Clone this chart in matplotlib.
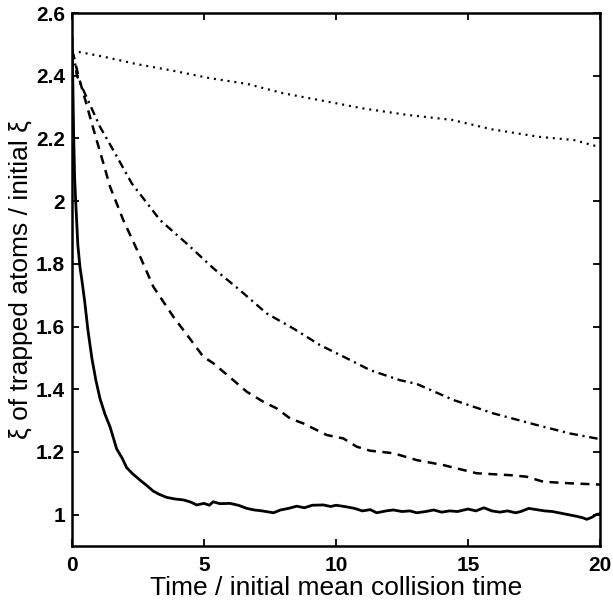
#!/usr/bin/env python
"""
Decay of xi for trapped atoms, four cases (solid, dashed, dash-dot, dotted).
Output: out.png
"""

import matplotlib
matplotlib.use('Agg')
import matplotlib.pyplot as plt
from matplotlib.ticker import FormatStrFormatter

# Data
solid_x = [0, 0.03, 0.06, 0.1, 0.15, 0.22, 0.3, 0.37, 0.48, 0.6, 0.75, 0.9,
           1.06, 1.25, 1.44, 1.69, 1.9, 2.07, 2.3, 2.58, 2.8, 3.08, 3.3,
           3.59, 3.9, 4.22, 4.5, 4.72, 5.0, 5.2, 5.35, 5.6, 5.98, 6.3, 6.62,
           6.9, 7.2, 7.63, 7.9, 8.2, 8.51, 8.8, 9.1, 9.52, 9.8, 10.0, 10.4,
           10.7, 11.0, 11.3, 11.54, 11.9, 12.17, 12.5, 12.8, 13.06, 13.4,
           13.7, 14.0, 14.3, 14.6, 15.0, 15.3, 15.6, 15.9, 16.2, 16.5, 16.8,
           17.0, 17.3, 17.6, 17.9, 18.2, 18.5, 18.8, 19.1, 19.35, 19.5,
           19.7, 19.85, 20.0]
solid_y = [2.52, 2.38, 2.22, 2.07, 1.98, 1.86, 1.79, 1.75, 1.68, 1.59, 1.50,
           1.43, 1.37, 1.32, 1.28, 1.21, 1.18, 1.15, 1.13, 1.11, 1.095, 1.075,
           1.065, 1.055, 1.05, 1.047, 1.04, 1.031, 1.036, 1.03, 1.041, 1.035,
           1.036, 1.03, 1.02, 1.015, 1.012, 1.006, 1.015, 1.02, 1.027, 1.022,
           1.03, 1.031, 1.026, 1.03, 1.025, 1.02, 1.012, 1.016, 1.006, 1.012,
           1.015, 1.01, 1.012, 1.006, 1.01, 1.015, 1.008, 1.012, 1.01, 1.018,
           1.012, 1.022, 1.012, 1.008, 1.012, 1.006, 1.01, 1.02, 1.016,
           1.012, 1.01, 1.005, 1.0, 0.995, 0.99, 0.985, 0.992, 1.0, 1.003]

dashed_x = [0, 0.1, 0.24, 0.49, 0.81, 1.19, 1.44, 1.94, 2.58, 3.08, 3.84,
            4.6, 4.97, 5.35, 6.11, 6.62, 7.25, 7.75, 8.26, 8.76, 9.65,
            10.28, 10.78, 11.29, 12.17, 13.06, 14.07, 15.33, 16.59, 17.22,
            17.85, 18.86, 20.0]
dashed_y = [2.48, 2.45, 2.40, 2.326, 2.23, 2.12, 2.046, 1.94, 1.823, 1.727,
            1.631, 1.546, 1.504, 1.483, 1.429, 1.392, 1.36, 1.339, 1.307,
            1.291, 1.254, 1.243, 1.217, 1.204, 1.196, 1.174, 1.158, 1.132,
            1.126, 1.121, 1.105, 1.10, 1.096]

dashdot_x = [0, 0.1, 0.18, 0.43, 1.06, 1.56, 2.26, 3.33, 4.34, 5.35, 6.36,
             7.37, 8.38, 9.39, 10.4, 11.29, 12.42, 13.06, 14.44, 15.96,
             17.6, 18.86, 19.87, 20.0]
dashdot_y = [2.48, 2.45, 2.40, 2.354, 2.237, 2.163, 2.057, 1.94, 1.865,
             1.786, 1.716, 1.642, 1.594, 1.541, 1.499, 1.461, 1.429, 1.417,
             1.366, 1.323, 1.286, 1.259, 1.243, 1.242]

dotted_x = [0, 1.18, 2.45, 3.7, 5.23, 6.63, 8.0, 9.39, 11.0, 12.7, 14.4,
            15.9, 17.7, 19.0, 20.0]
dotted_y = [2.48, 2.461, 2.437, 2.418, 2.392, 2.374, 2.344, 2.322, 2.296,
            2.275, 2.259, 2.229, 2.205, 2.195, 2.172]

x_ticks = [0, 5, 10, 15, 20]
y_ticks = [1, 1.2, 1.4, 1.6, 1.8, 2, 2.2, 2.4, 2.6]


def main():
    plt.rcParams['font.family'] = ['Liberation Sans', 'DejaVu Sans']

    fig = plt.figure(figsize=(6.13, 6.05), dpi=100)
    ax = fig.add_axes([0.1175, 0.0975, 0.8613, 0.881])

    ax.plot(solid_x, solid_y, color='black', linewidth=2.0, linestyle='-')
    ax.plot(dashed_x, dashed_y, color='black', linewidth=1.8,
            linestyle=(0, (3.6, 2.6)))
    ax.plot(dashdot_x, dashdot_y, color='black', linewidth=1.7,
            linestyle=(0, (3.6, 2.0, 0.9, 2.0)))
    ax.plot(dotted_x, dotted_y, color='black', linewidth=1.6,
            linestyle=(0, (0.9, 2.2)))

    ax.set_xlim(0, 20)
    ax.set_ylim(0.9, 2.6)
    ax.set_xticks(x_ticks)
    ax.set_yticks(y_ticks)
    ax.yaxis.set_major_formatter(FormatStrFormatter('%g'))

    ax.tick_params(direction='in', length=5, width=1.3, top=True, right=True,
                   labelsize=15)
    ax.tick_params(axis='x', pad=7)
    ax.tick_params(axis='y', pad=5)
    for lbl in ax.get_xticklabels() + ax.get_yticklabels():
        lbl.set_fontweight('bold')
    for side in ['left', 'right', 'top', 'bottom']:
        ax.spines[side].set_linewidth(1.8)

    ax.set_xlabel('Time / initial mean collision time', fontsize=19,
                  labelpad=1)
    ax.set_ylabel('ξ of trapped atoms / initial ξ', fontsize=19, labelpad=2)

    fig.savefig('out.png', dpi=100, facecolor='white')


if __name__ == '__main__':
    main()
